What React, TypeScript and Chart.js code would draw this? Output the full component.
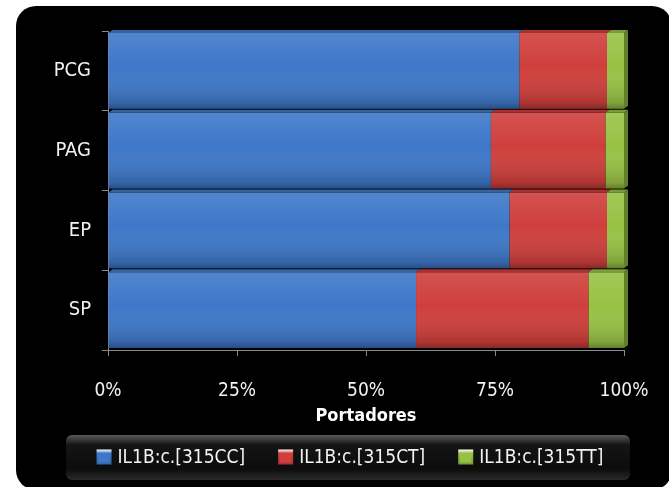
import React, { useEffect, useRef } from "react";
import { Chart, registerables } from "chart.js";

Chart.register(...registerables);

// Genotype distribution (percent of carriers) per group
const categories = ["PCG", "PAG", "EP", "SP"];
const seriesLabels = ["IL1B:c.[315CC]", "IL1B:c.[315CT]", "IL1B:c.[315TT]"];
const ccValues = [79.7, 74.2, 77.8, 59.7];
const ctValues = [17.0, 22.2, 18.9, 33.4];
const ttValues = [3.3, 3.6, 3.3, 6.9];
const xTickValues = [0, 25, 50, 75, 100];
const xAxisTitle = "Portadores";

const seriesColors = ["#3e78c9", "#cf3f3c", "#98c245"];
const topFaceColors = ["#35659f", "#a83230", "#7a9c35"];
const sideFaceColors = ["#2d5487", "#8c2927", "#62802a"];

const FONT = '"Liberation Sans Narrow", "DejaVu Sans Condensed", "Arial Narrow", sans-serif';
const DEPTH = 4;

const backdropPlugin = {
  id: "backdrop",
  beforeDraw(chart: any) {
    const { ctx, width, height } = chart;
    ctx.save();
    ctx.fillStyle = "#ffffff";
    ctx.fillRect(0, 0, width, height);
    ctx.fillStyle = "#000000";
    ctx.beginPath();
    ctx.roundRect(16, 6, 656, 484, 20);
    ctx.fill();
    ctx.restore();
  },
};

const bevelPlugin = {
  id: "bevel",
  afterDatasetsDraw(chart: any) {
    const { ctx } = chart;
    const count = chart.data.datasets.length;
    ctx.save();
    for (let d = 0; d < count; d++) {
      const meta = chart.getDatasetMeta(d);
      meta.data.forEach((bar: any) => {
        const { x, y, base, height } = bar.getProps(["x", "y", "base", "height"], true);
        const top = y - height / 2;
        const bottom = y + height / 2;
        const left = Math.min(x, base);
        const right = Math.max(x, base);
        // shading on the front face
        const g = ctx.createLinearGradient(0, top, 0, bottom);
        g.addColorStop(0, "rgba(255,255,255,0.10)");
        g.addColorStop(0.45, "rgba(255,255,255,0.0)");
        g.addColorStop(0.92, "rgba(0,0,0,0.16)");
        g.addColorStop(1, "rgba(0,0,0,0.35)");
        ctx.fillStyle = g;
        ctx.fillRect(left, top, right - left, height);
        // top face
        ctx.fillStyle = topFaceColors[d];
        ctx.beginPath();
        ctx.moveTo(left, top);
        ctx.lineTo(right, top);
        ctx.lineTo(right + DEPTH, top - DEPTH + 1);
        ctx.lineTo(left + DEPTH, top - DEPTH + 1);
        ctx.closePath();
        ctx.fill();
        if (d === count - 1) {
          ctx.fillStyle = sideFaceColors[d];
          ctx.beginPath();
          ctx.moveTo(right, top);
          ctx.lineTo(right + DEPTH, top - DEPTH + 1);
          ctx.lineTo(right + DEPTH, bottom - DEPTH + 1);
          ctx.lineTo(right, bottom);
          ctx.closePath();
          ctx.fill();
        }
      });
    }
    ctx.restore();
  },
};

const legendPlugin = {
  id: "customLegend",
  afterDraw(chart: any) {
    const { ctx } = chart;
    const boxX = 66, boxY = 435, boxW = 564, boxH = 45;
    ctx.save();
    const g = ctx.createLinearGradient(0, boxY, 0, boxY + boxH);
    g.addColorStop(0, "#5a5a5a");
    g.addColorStop(0.1, "#3a3a3a");
    g.addColorStop(0.22, "#141414");
    g.addColorStop(0.75, "#0c0c0c");
    g.addColorStop(1, "#2a2a2a");
    ctx.fillStyle = g;
    ctx.beginPath();
    ctx.roundRect(boxX, boxY, boxW, boxH, 6);
    ctx.fill();

    ctx.font = `19px ${FONT}`;
    ctx.textBaseline = "middle";
    ctx.textAlign = "left";
    const sq = 15, gap = 6, itemGap = 33;
    const labels = chart.data.datasets.map((ds: any) => ds.label as string);
    const widths = labels.map((t: string) => ctx.measureText(t).width);
    const total = widths.reduce((a: number, w: number) => a + sq + gap + w, 0) + itemGap * (labels.length - 1);
    let cx = 350 - total / 2;
    const cy = 457;
    labels.forEach((t: string, i: number) => {
      const sg = ctx.createLinearGradient(0, cy - sq / 2, 0, cy + sq / 2);
      sg.addColorStop(0, "#ffffff");
      sg.addColorStop(0.25, seriesColors[i]);
      sg.addColorStop(1, topFaceColors[i]);
      ctx.fillStyle = sg;
      ctx.fillRect(cx, cy - sq / 2, sq, sq);
      ctx.fillStyle = seriesColors[i];
      ctx.fillRect(cx + 2, cy - sq / 2 + 4, sq - 4, sq - 6);
      ctx.fillStyle = "#f2f2f2";
      ctx.fillText(t, cx + sq + gap, cy + 1);
      cx += sq + gap + widths[i] + itemGap;
    });
    ctx.restore();
  },
};

export default function App() {
  const canvasRef = useRef<HTMLCanvasElement | null>(null);

  useEffect(() => {
    document.body.style.margin = "0";
    const canvas = canvasRef.current;
    if (!canvas) return;
    const values = [ccValues, ctValues, ttValues];
    const chart = new Chart(canvas, {
      type: "bar",
      data: {
        labels: categories,
        datasets: seriesLabels.map((label, i) => ({
          label,
          data: values[i],
          backgroundColor: seriesColors[i],
          borderWidth: 0,
          categoryPercentage: 1,
          barPercentage: 0.95,
        })),
      },
      options: {
        indexAxis: "y",
        responsive: false,
        animation: false,
        devicePixelRatio: 1,
        layout: { padding: { top: 31, right: 45, bottom: 60, left: 0 } },
        plugins: {
          legend: { display: false },
          tooltip: { enabled: false },
        },
        scales: {
          x: {
            type: "linear",
            stacked: true,
            min: 0,
            max: 100,
            afterBuildTicks: (scale: any) => {
              scale.ticks = xTickValues.map((v) => ({ value: v }));
            },
            afterFit: (scale: any) => {
              scale.height = 77;
              scale.paddingLeft = 0;
              scale.paddingRight = 0;
            },
            ticks: {
              color: "#f2f2f2",
              font: { family: FONT, size: 19 },
              padding: 24,
              maxRotation: 0,
              callback: (v: any) => `${v}%`,
            },
            grid: { drawOnChartArea: false, drawTicks: true, tickLength: 6, color: "#8a8a8a" },
            border: { color: "#8a8a8a" },
            title: {
              display: true,
              text: xAxisTitle,
              color: "#ffffff",
              font: { family: FONT, size: 18, weight: "bold" },
              padding: { top: 0, bottom: 0 },
            },
          },
          y: {
            type: "category",
            stacked: true,
            afterFit: (scale: any) => {
              scale.width = 108;
            },
            ticks: {
              color: "#f2f2f2",
              font: { family: FONT, size: 20 },
              padding: 11,
            },
            grid: { drawOnChartArea: false, drawTicks: true, tickLength: 6, color: "#8a8a8a", offset: true },
            border: { color: "#8a8a8a" },
          },
        },
      },
      plugins: [backdropPlugin, bevelPlugin, legendPlugin],
    } as any);
    return () => chart.destroy();
  }, []);

  return (
    <div style={{ width: 669, height: 487 }}>
      <canvas ref={canvasRef} width={669} height={487} style={{ display: "block", width: 669, height: 487 }} />
    </div>
  );
}
